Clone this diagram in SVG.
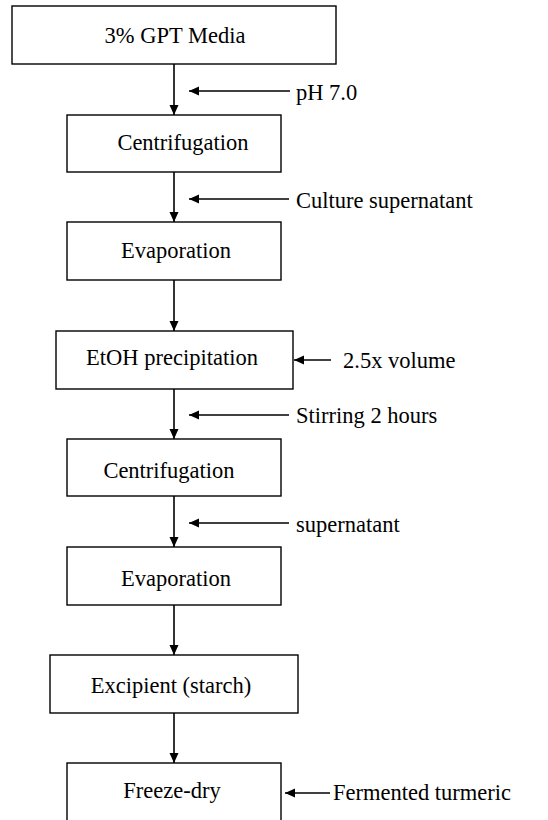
<svg xmlns="http://www.w3.org/2000/svg" width="548" height="820" viewBox="0 0 548 820">
<style>
.box{fill:#fff;stroke:#000;stroke-width:1.4}
.t{font-family:"Liberation Serif","Times New Roman",serif;font-size:22.5px;fill:#000}
.m{text-anchor:middle}
.c{stroke:#000;stroke-width:1.6;fill:none;marker-end:url(#ah)}
</style>
<defs>
<marker id="ah" markerUnits="userSpaceOnUse" markerWidth="12" markerHeight="10" refX="10" refY="4.5" orient="auto">
<path d="M0,0 L10,4.5 L0,9 Z" fill="#000"/>
</marker>
</defs>
<rect width="548" height="820" fill="#fff"/>
<g id="connectors">
<line class="c" x1="174" y1="64" x2="174" y2="115"/>
<line class="c" x1="174" y1="172" x2="174" y2="222"/>
<line class="c" x1="174" y1="280" x2="174" y2="331"/>
<line class="c" x1="174" y1="389" x2="174" y2="439"/>
<line class="c" x1="174" y1="496" x2="174" y2="547"/>
<line class="c" x1="174" y1="605" x2="174" y2="655"/>
<line class="c" x1="174" y1="713" x2="174" y2="763"/>
<line class="c" x1="290" y1="91" x2="189" y2="91"/>
<line class="c" x1="289" y1="199" x2="189" y2="199"/>
<line class="c" x1="331" y1="360" x2="294" y2="360"/>
<line class="c" x1="289" y1="415" x2="189" y2="415"/>
<line class="c" x1="289" y1="523" x2="189" y2="523"/>
<line class="c" x1="330" y1="793" x2="285" y2="793"/>
</g>
<g id="labels">
<text class="t" x="296" y="100">pH 7.0</text>
<text class="t" x="296" y="208">Culture supernatant</text>
<text class="t" x="343" y="368">2.5x volume</text>
<text class="t" x="296" y="423">Stirring 2 hours</text>
<text class="t" x="296" y="532">supernatant</text>
<text class="t" x="333" y="800">Fermented turmeric</text>
</g>
<g id="n1"><rect class="box" x="12" y="6" width="324" height="58"/><text class="t m" x="175" y="43">3% GPT Media</text></g>
<g id="n2"><rect class="box" x="67" y="115" width="214" height="57"/><text class="t m" x="183" y="150">Centrifugation</text></g>
<g id="n3"><rect class="box" x="67" y="222" width="214" height="58"/><text class="t m" x="176" y="258">Evaporation</text></g>
<g id="n4"><rect class="box" x="56" y="331" width="237" height="58"/><text class="t m" x="172" y="365">EtOH precipitation</text></g>
<g id="n5"><rect class="box" x="67" y="439" width="214" height="57"/><text class="t m" x="169" y="478">Centrifugation</text></g>
<g id="n6"><rect class="box" x="67" y="547" width="214" height="58"/><text class="t m" x="176" y="586">Evaporation</text></g>
<g id="n7"><rect class="box" x="50" y="655" width="248" height="58"/><text class="t m" x="171" y="693">Excipient (starch)</text></g>
<g id="n8"><rect class="box" x="67" y="763" width="214" height="70"/><text class="t m" x="172" y="798">Freeze-dry</text></g>
</svg>
